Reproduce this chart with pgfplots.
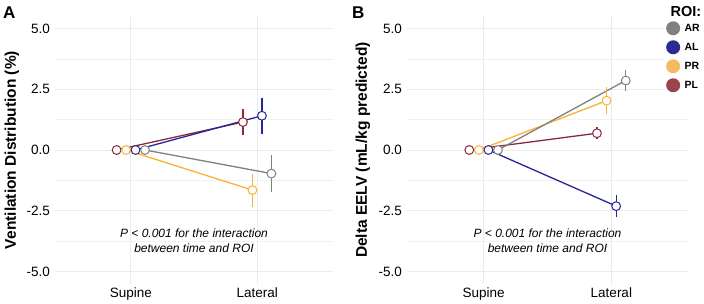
\documentclass[border=0pt]{standalone}
\usepackage{fontspec}
\setmainfont{Liberation Sans}
\usepackage{pgfplots}
\pgfplotsset{compat=1.18}
\definecolor{ARc}{RGB}{128,128,128}
\definecolor{ALc}{RGB}{38,38,150}
\definecolor{PRc}{RGB}{251,178,52}
\definecolor{PLc}{RGB}{140,40,62}
\definecolor{ARl}{RGB}{128,128,128}
\definecolor{ALl}{RGB}{43,43,145}
\definecolor{PRl}{RGB}{245,187,94}
\definecolor{PLl}{RGB}{155,68,80}
\definecolor{gridc}{RGB}{235,235,235}
\pgfplotsset{
  panel/.style={
    scale only axis,
    height=267.2pt,
    xmin=-0.6, xmax=1.6, ymin=-5.5, ymax=5.5,
    xtick={0,1}, xticklabels={Supine,Lateral},
    ytick={-5,-2.5,0,2.5,5},
    minor ytick={-3.75,-1.25,1.25,3.75},
    grid=both,
    major grid style={gridc, line width=0.7pt},
    minor grid style={gridc!70, line width=0.5pt},
    axis line style={draw=none},
    major tick length=0pt, minor tick length=0pt,
    tick label style={font=\fontsize{13.5}{15}\selectfont, black},
    /pgf/number format/assume math mode=true,
    yticklabel style={xshift=-1.5pt, /pgf/number format/fixed, /pgf/number format/fixed zerofill, /pgf/number format/precision=1},
    xticklabel style={yshift=-1pt},
    ylabel style={font=\bfseries\fontsize{15.5}{17}\selectfont, anchor=center},
    clip=false,
  },
  lineAR/.style={ARc, line width=1.3pt, forget plot},
  lineAL/.style={ALc, line width=1.3pt, forget plot},
  linePR/.style={PRc, line width=1.3pt, forget plot},
  linePL/.style={PLc, line width=1.3pt, forget plot},
  pts/.style={only marks, mark=*, mark size=4.4pt, mark options={fill=white, line width=1pt}, line width=1.3pt, forget plot,
    error bars/y dir=both, error bars/y explicit, error bars/error mark=none, error bars/error bar style={line width=1.3pt}},
}
\begin{document}
\begin{tikzpicture}[x=1pt,y=1pt]
\path[use as bounding box] (0,0) rectangle (704,304);
% ---------- Panel A ----------
\begin{axis}[panel, width=278pt, at={(55pt,20.4pt)}, anchor=south west,
  ylabel={Ventilation Distribution (\%)},
  ylabel style={at={(axis description cs:-0.155,0.5)}}]
\addplot[linePL] coordinates {(-0.1125,0) (0.8875,1.15)};
\addplot[linePR] coordinates {(-0.0375,0) (0.9625,-1.65)};
\addplot[lineAL] coordinates {(0.0375,0) (1.0375,1.41)};
\addplot[lineAR] coordinates {(0.1125,0) (1.1125,-0.97)};
\addplot[pts, PLc] coordinates {(-0.1125,0) +- (0,0) (0.8875,1.15) +- (0,0.53)};
\addplot[pts, PRc] coordinates {(-0.0375,0) +- (0,0) (0.9625,-1.65) +- (0,0.68)};
\addplot[pts, ALc] coordinates {(0.0375,0) +- (0,0) (1.0375,1.41) +- (0,0.74)};
\addplot[pts, ARc] coordinates {(0.1125,0) +- (0,0) (1.1125,-0.97) +- (0,0.76)};
\node[align=center, font=\itshape\fontsize{12}{15}\selectfont] at (axis cs:0.5,-3.72)
  {P < 0.001 for the interaction\\between time and ROI};
\end{axis}
\node[font=\bfseries\fontsize{17}{19}\selectfont, anchor=north west, inner sep=0pt] at (3,297) {A};
% ---------- Panel B ----------
\begin{axis}[panel, width=281pt, at={(407pt,20.4pt)}, anchor=south west,
  ylabel={Delta EELV (mL/kg predicted)},
  ylabel style={at={(axis description cs:-0.157,0.5)}},
  legend image code/.code={\path[draw=none] (-7pt,0pt) (10pt,0pt); \fill[#1, draw=none] (0pt,0pt) circle (7pt);},
  legend style={at={(axis description cs:0.918,0.99)}, anchor=north west, draw=none, fill=white,
    font=\bfseries\fontsize{10.5}{12}\selectfont, row sep=5pt, inner xsep=1pt, inner ysep=2pt,
    cells={anchor=west}, nodes={inner sep=1.5pt}},
  legend cell align=left]
\addplot[linePL] coordinates {(-0.1125,0) (0.8875,0.69)};
\addplot[linePR] coordinates {(-0.0375,0) (0.9625,2.03)};
\addplot[lineAL] coordinates {(0.0375,0) (1.0375,-2.31)};
\addplot[lineAR] coordinates {(0.1125,0) (1.1125,2.86)};
\addplot[pts, PLc] coordinates {(-0.1125,0) +- (0,0) (0.8875,0.69) +- (0,0.25)};
\addplot[pts, PRc] coordinates {(-0.0375,0) +- (0,0) (0.9625,2.03) +- (0,0.55)};
\addplot[pts, ALc] coordinates {(0.0375,0) +- (0,0) (1.0375,-2.31) +- (0,0.45)};
\addplot[pts, ARc] coordinates {(0.1125,0) +- (0,0) (1.1125,2.86) +- (0,0.45)};
\node[align=center, font=\itshape\fontsize{12}{15}\selectfont] at (axis cs:0.5,-3.72)
  {P < 0.001 for the interaction\\between time and ROI};
\addlegendimage{fill=ARl}\addlegendentry{AR}
\addlegendimage{fill=ALl}\addlegendentry{AL}
\addlegendimage{fill=PRl}\addlegendentry{PR}
\addlegendimage{fill=PLl}\addlegendentry{PL}
\end{axis}
\node[font=\bfseries\fontsize{17}{19}\selectfont, anchor=north west, inner sep=0pt] at (352,297) {B};
\node[font=\bfseries\fontsize{14.5}{16}\selectfont, anchor=center, inner sep=0pt] at (686,292) {ROI:};
\end{tikzpicture}
\end{document}
